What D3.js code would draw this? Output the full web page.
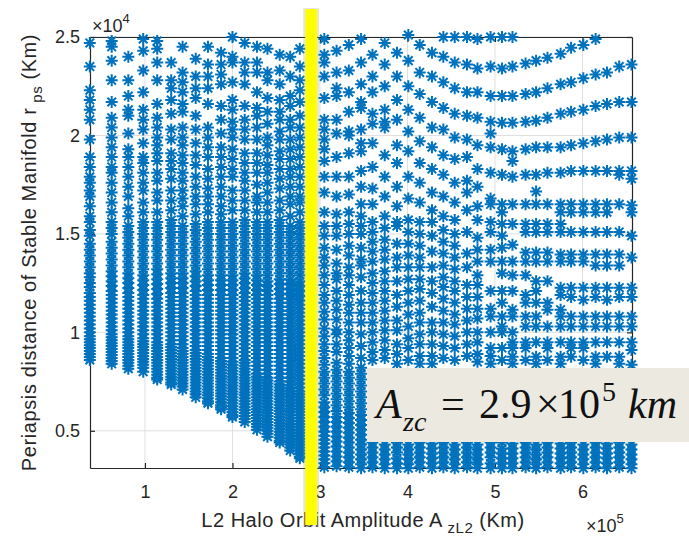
<!DOCTYPE html>
<html>
<head>
<meta charset="utf-8">
<script src="https://cdn.jsdelivr.net/npm/d3@7"></script>
<style>
  html, body { margin: 0; padding: 0; background: #fff; }
  svg { display: block; }
</style>
</head>
<body>
<svg id="chart" width="689" height="537"></svg>
<script>
// L2 halo orbit out-of-plane amplitude A_zL2, units of 1e5 km
const amplitudes = [
  0.37, 0.62, 0.81, 0.98, 1.14, 1.30, 1.43, 1.58, 1.72, 1.87, 2.00, 2.14, 2.28, 2.40, 2.54, 2.66, 2.77,
  3.05, 3.19, 3.33, 3.47, 3.60, 3.74, 3.88, 4.01, 4.14, 4.28, 4.41, 4.54, 4.68, 4.80,
  4.95, 5.08, 5.20, 5.35, 5.47, 5.60, 5.75, 5.87, 6.01, 6.15, 6.28, 6.42, 6.56
];

// Periapsis distances of the stable manifold r_ps (units of 1e4 km), one list per amplitude
const periapsis = [
  [2.47,2.35,2.23,2.18,2.13,2.08,1.98,1.89,1.84,1.79,1.76,1.72,1.69,1.64,1.59,1.56,1.52,1.49,1.45,1.42,1.39,1.36,1.33,1.30,1.28,1.25,1.23,1.20,1.18,1.16,1.14,1.12,1.10,1.08,1.06,1.04,1.02,1.00,0.98,0.965,0.95,0.935,0.92,0.905,0.89,0.875,0.86],
  [2.48,2.45,2.38,2.28,2.17,2.09,2.04,1.99,1.94,1.89,1.84,1.81,1.76,1.71,1.66,1.61,1.56,1.53,1.50,1.46,1.43,1.40,1.37,1.34,1.31,1.285,1.26,1.235,1.21,1.19,1.17,1.15,1.13,1.11,1.09,1.07,1.05,1.03,1.01,0.99,0.975,0.96,0.945,0.93,0.915,0.90,0.885,0.87,0.855,0.84],
  [2.40,2.28,2.20,2.13,2.10,2.01,1.93,1.89,1.84,1.79,1.74,1.69,1.63,1.59,1.54,1.51,1.48,1.45,1.42,1.39,1.36,1.33,1.30,1.275,1.25,1.225,1.20,1.18,1.16,1.14,1.12,1.10,1.08,1.06,1.04,1.02,1.00,0.98,0.965,0.95,0.935,0.92,0.905,0.89,0.875,0.86,0.845,0.83,0.815],
  [2.49,2.43,2.33,2.22,2.13,2.08,2.03,1.96,1.89,1.86,1.81,1.76,1.72,1.66,1.61,1.56,1.53,1.50,1.47,1.44,1.41,1.38,1.35,1.32,1.29,1.265,1.24,1.215,1.19,1.17,1.15,1.13,1.11,1.09,1.07,1.05,1.03,1.01,0.99,0.97,0.955,0.94,0.925,0.91,0.895,0.88,0.865,0.85,0.835,0.82,0.80],
  [2.48,2.44,2.37,2.28,2.16,2.09,2.04,1.99,1.95,1.91,1.87,1.81,1.77,1.71,1.67,1.61,1.56,1.53,1.50,1.47,1.44,1.41,1.38,1.35,1.32,1.295,1.27,1.245,1.22,1.195,1.17,1.15,1.13,1.11,1.09,1.07,1.05,1.03,1.01,0.99,0.97,0.95,0.935,0.92,0.905,0.89,0.875,0.86,0.845,0.83,0.815,0.80,0.785,0.77,0.76],
  [2.37,2.28,2.24,2.18,2.11,2.03,1.98,1.91,1.87,1.83,1.78,1.72,1.67,1.62,1.57,1.54,1.51,1.48,1.45,1.42,1.39,1.36,1.33,1.30,1.275,1.25,1.225,1.20,1.18,1.16,1.14,1.12,1.10,1.08,1.06,1.04,1.02,1.00,0.98,0.96,0.94,0.925,0.91,0.895,0.88,0.865,0.85,0.835,0.82,0.805,0.79,0.775,0.76,0.745,0.735],
  [2.45,2.32,2.27,2.22,2.16,2.12,2.04,1.99,1.95,1.90,1.86,1.81,1.77,1.72,1.68,1.64,1.59,1.54,1.51,1.48,1.45,1.42,1.39,1.36,1.33,1.30,1.275,1.25,1.225,1.20,1.18,1.16,1.14,1.12,1.10,1.08,1.06,1.04,1.02,1.00,0.98,0.96,0.94,0.92,0.905,0.89,0.875,0.86,0.845,0.83,0.815,0.80,0.785,0.77,0.755,0.74,0.725,0.71],
  [2.39,2.30,2.24,2.19,2.10,2.03,1.96,1.90,1.85,1.79,1.74,1.69,1.65,1.60,1.55,1.52,1.49,1.46,1.43,1.40,1.37,1.34,1.31,1.285,1.26,1.235,1.21,1.19,1.17,1.15,1.13,1.11,1.09,1.07,1.05,1.03,1.01,0.99,0.97,0.95,0.93,0.91,0.895,0.88,0.865,0.85,0.835,0.82,0.805,0.79,0.775,0.76,0.745,0.73,0.715,0.70,0.685,0.67],
  [2.45,2.36,2.30,2.24,2.16,2.04,1.99,1.94,1.89,1.83,1.78,1.73,1.69,1.65,1.61,1.56,1.53,1.50,1.47,1.44,1.41,1.38,1.35,1.32,1.29,1.265,1.24,1.215,1.19,1.17,1.15,1.13,1.11,1.09,1.07,1.05,1.03,1.01,0.99,0.97,0.95,0.93,0.91,0.89,0.875,0.86,0.845,0.83,0.815,0.80,0.785,0.77,0.755,0.74,0.725,0.71,0.695,0.68,0.665,0.65,0.64],
  [2.42,2.36,2.31,2.26,2.15,2.08,2.01,1.94,1.89,1.84,1.79,1.74,1.69,1.64,1.60,1.56,1.53,1.50,1.47,1.44,1.41,1.38,1.35,1.32,1.29,1.265,1.24,1.215,1.19,1.17,1.15,1.13,1.11,1.09,1.07,1.05,1.03,1.01,0.99,0.97,0.95,0.93,0.91,0.89,0.87,0.855,0.84,0.825,0.81,0.795,0.78,0.765,0.75,0.735,0.72,0.705,0.69,0.675,0.66,0.645,0.63,0.62,0.61],
  [2.50,2.40,2.37,2.27,2.18,2.13,2.07,2.03,1.99,1.93,1.88,1.83,1.79,1.72,1.67,1.62,1.56,1.53,1.50,1.47,1.44,1.41,1.38,1.35,1.32,1.29,1.265,1.24,1.215,1.19,1.17,1.15,1.13,1.11,1.09,1.07,1.05,1.03,1.01,0.99,0.97,0.95,0.93,0.91,0.89,0.87,0.85,0.835,0.82,0.805,0.79,0.775,0.76,0.745,0.73,0.715,0.70,0.685,0.67,0.655,0.64,0.625,0.61,0.595,0.58,0.57],
  [2.47,2.37,2.32,2.26,2.15,2.08,2.03,1.98,1.91,1.86,1.81,1.77,1.72,1.67,1.62,1.57,1.54,1.51,1.48,1.45,1.42,1.39,1.36,1.33,1.30,1.275,1.25,1.225,1.20,1.18,1.16,1.14,1.12,1.10,1.08,1.06,1.04,1.02,1.00,0.98,0.96,0.94,0.92,0.90,0.88,0.86,0.845,0.83,0.815,0.80,0.785,0.77,0.755,0.74,0.725,0.71,0.695,0.68,0.665,0.65,0.635,0.62,0.605,0.59,0.575,0.56,0.545],
  [2.45,2.37,2.32,2.22,2.14,2.10,2.04,1.98,1.91,1.86,1.81,1.75,1.69,1.66,1.61,1.56,1.53,1.50,1.47,1.44,1.41,1.38,1.35,1.32,1.29,1.265,1.24,1.215,1.19,1.17,1.15,1.13,1.11,1.09,1.07,1.05,1.03,1.01,0.99,0.97,0.95,0.93,0.91,0.89,0.87,0.85,0.83,0.81,0.79,0.775,0.76,0.745,0.73,0.715,0.70,0.685,0.67,0.655,0.64,0.625,0.61,0.595,0.58,0.565,0.55,0.535,0.52,0.505],
  [2.44,2.32,2.28,2.19,2.12,2.06,1.99,1.95,1.90,1.85,1.81,1.76,1.71,1.66,1.61,1.56,1.53,1.50,1.47,1.44,1.41,1.38,1.35,1.32,1.29,1.26,1.235,1.21,1.19,1.17,1.15,1.13,1.11,1.09,1.07,1.05,1.03,1.01,0.99,0.97,0.95,0.93,0.91,0.89,0.87,0.85,0.83,0.81,0.79,0.77,0.755,0.74,0.725,0.71,0.695,0.68,0.665,0.65,0.635,0.62,0.605,0.59,0.575,0.56,0.545,0.53,0.515,0.50,0.485,0.47],
  [2.41,2.33,2.26,2.18,2.12,2.08,2.02,1.98,1.92,1.88,1.83,1.78,1.73,1.67,1.62,1.57,1.54,1.51,1.48,1.45,1.42,1.39,1.36,1.33,1.30,1.27,1.245,1.22,1.195,1.17,1.15,1.13,1.11,1.09,1.07,1.05,1.03,1.01,0.99,0.97,0.95,0.93,0.91,0.89,0.87,0.85,0.83,0.81,0.79,0.77,0.75,0.735,0.72,0.705,0.69,0.675,0.66,0.645,0.63,0.615,0.60,0.585,0.57,0.555,0.54,0.525,0.51,0.495,0.48,0.465,0.45,0.44],
  [2.40,2.30,2.20,2.15,2.08,2.04,1.98,1.93,1.88,1.83,1.79,1.74,1.69,1.65,1.59,1.54,1.51,1.48,1.45,1.42,1.39,1.36,1.33,1.30,1.27,1.245,1.22,1.195,1.17,1.15,1.13,1.11,1.09,1.07,1.05,1.03,1.01,0.99,0.97,0.95,0.93,0.91,0.89,0.87,0.85,0.83,0.81,0.79,0.77,0.75,0.73,0.715,0.70,0.685,0.67,0.655,0.64,0.625,0.61,0.595,0.58,0.565,0.55,0.535,0.52,0.505,0.49,0.475,0.46,0.445,0.43,0.415,0.40],
  [2.44,2.35,2.28,2.23,2.17,2.10,2.04,1.99,1.94,1.89,1.84,1.79,1.74,1.69,1.66,1.61,1.56,1.53,1.50,1.47,1.44,1.41,1.38,1.35,1.32,1.29,1.26,1.235,1.21,1.185,1.16,1.14,1.12,1.10,1.08,1.06,1.04,1.02,1.00,0.98,0.96,0.94,0.92,0.90,0.88,0.86,0.84,0.82,0.80,0.78,0.76,0.74,0.72,0.70,0.685,0.67,0.655,0.64,0.625,0.61,0.595,0.58,0.565,0.55,0.535,0.52,0.505,0.49,0.475,0.46,0.445,0.43,0.415,0.40,0.385,0.37,0.36],
  [2.49,2.41,2.37,2.30,2.19,2.08,2.03,1.98,1.93,1.87,1.79,1.71,1.61,1.54,1.49,1.43,1.38,1.34,1.29,1.24,1.19,1.15,1.105,1.065,1.02,0.98,0.94,0.905,0.87,0.835,0.80,0.77,0.74,0.71,0.68,0.645,0.62,0.595,0.57,0.545,0.52,0.495,0.475,0.455,0.435,0.415,0.395,0.375,0.355,0.335,0.315],
  [2.43,2.32,2.24,2.20,2.08,2.01,1.89,1.79,1.69,1.60,1.54,1.49,1.42,1.35,1.30,1.27,1.21,1.16,1.115,1.065,1.015,0.99,0.94,0.90,0.845,0.81,0.78,0.75,0.72,0.69,0.66,0.63,0.60,0.57,0.545,0.52,0.495,0.47,0.445,0.42,0.395,0.37,0.345,0.32],
  [2.46,2.33,2.22,2.12,2.02,2.00,1.91,1.79,1.70,1.61,1.55,1.50,1.44,1.39,1.33,1.29,1.24,1.19,1.14,1.10,1.05,1.00,0.96,0.92,0.88,0.84,0.80,0.77,0.74,0.71,0.68,0.65,0.62,0.59,0.565,0.54,0.515,0.49,0.465,0.44,0.415,0.39,0.365,0.34,0.315],
  [2.49,2.37,2.26,2.17,2.14,2.03,1.96,1.92,1.82,1.74,1.65,1.59,1.54,1.50,1.43,1.37,1.34,1.28,1.21,1.15,1.10,1.05,0.99,0.93,0.87,0.82,0.79,0.76,0.73,0.70,0.67,0.64,0.61,0.58,0.555,0.53,0.505,0.48,0.455,0.43,0.405,0.38,0.355,0.33,0.31],
  [2.41,2.30,2.22,2.11,2.06,1.96,1.84,1.73,1.65,1.56,1.51,1.46,1.41,1.36,1.30,1.25,1.20,1.15,1.10,1.05,1.00,0.95,0.90,0.86,0.44,0.415,0.39,0.365,0.34,0.315],
  [2.47,2.36,2.25,2.13,2.07,2.04,1.90,1.79,1.69,1.59,1.53,1.47,1.42,1.37,1.31,1.26,1.21,1.16,1.11,1.06,1.01,0.96,0.91,0.87,0.43,0.405,0.38,0.355,0.33,0.31],
  [2.42,2.30,2.18,2.08,1.95,1.86,1.74,1.64,1.56,1.54,1.45,1.38,1.33,1.26,1.19,1.13,1.06,1.01,0.94,0.89,0.84,0.44,0.415,0.39,0.36,0.335,0.31],
  [2.51,2.38,2.25,2.13,2.02,1.92,1.79,1.68,1.57,1.51,1.45,1.39,1.33,1.27,1.21,1.15,1.09,1.03,0.97,0.92,0.86,0.43,0.405,0.38,0.355,0.33,0.31],
  [2.46,2.32,2.21,2.09,1.97,1.86,1.76,1.66,1.56,1.50,1.44,1.38,1.33,1.27,1.22,1.16,1.10,1.05,0.99,0.94,0.88,0.84,0.44,0.415,0.39,0.365,0.34,0.315],
  [2.42,2.30,2.17,2.04,1.94,1.83,1.71,1.62,1.56,1.49,1.41,1.33,1.26,1.20,1.13,1.05,1.00,0.94,0.88,0.84,0.435,0.41,0.385,0.36,0.335,0.31],
  [2.50,2.40,2.27,2.14,2.03,1.90,1.80,1.69,1.59,1.52,1.46,1.40,1.34,1.28,1.23,1.17,1.11,1.05,0.99,0.93,0.87,0.44,0.415,0.39,0.365,0.34,0.315],
  [2.50,2.37,2.24,2.11,1.99,1.88,1.76,1.66,1.57,1.50,1.44,1.38,1.32,1.26,1.21,1.15,1.09,1.04,0.98,0.92,0.86,0.43,0.405,0.38,0.355,0.33,0.31],
  [2.50,2.36,2.22,2.10,1.98,1.89,1.77,1.71,1.62,1.51,1.40,1.33,1.24,1.18,1.12,1.06,1.00,0.94,0.88,0.44,0.415,0.39,0.365,0.34,0.315],
  [2.49,2.34,2.22,2.09,1.95,1.83,1.74,1.64,1.57,1.48,1.42,1.36,1.29,1.24,1.18,1.12,1.07,1.00,0.95,0.89,0.85,0.43,0.405,0.38,0.355,0.33,0.31],
  [2.50,2.35,2.20,2.07,2.01,1.94,1.81,1.68,1.65,1.56,1.51,1.42,1.36,1.21,1.12,1.08,1.00,0.92,0.88,0.84,0.44,0.415,0.39,0.365,0.335,0.31],
  [2.50,2.34,2.20,2.065,1.93,1.80,1.65,1.61,1.55,1.49,1.43,1.36,1.30,1.21,1.15,1.08,1.03,1.00,0.92,0.86,0.44,0.41,0.385,0.36,0.335,0.31],
  [2.50,2.35,2.20,2.065,1.92,1.87,1.79,1.65,1.55,1.445,1.36,1.29,1.21,1.115,1.08,1.00,0.95,0.92,0.876,0.84,0.435,0.41,0.385,0.36,0.335,0.31],
  [2.365,2.21,2.07,1.93,1.80,1.65,1.55,1.51,1.405,1.36,1.29,1.19,1.15,1.08,1.03,0.95,0.92,0.86,0.44,0.415,0.39,0.365,0.34,0.315],
  [2.38,2.22,2.075,1.94,1.80,1.715,1.65,1.55,1.51,1.405,1.36,1.26,1.21,1.15,1.08,1.03,0.95,0.876,0.84,0.43,0.405,0.38,0.355,0.33,0.31],
  [2.395,2.24,2.09,1.94,1.81,1.65,1.55,1.51,1.405,1.36,1.26,1.15,1.115,1.03,0.95,0.92,0.86,0.44,0.415,0.39,0.365,0.34,0.315],
  [2.415,2.26,2.11,1.94,1.81,1.65,1.61,1.55,1.51,1.395,1.36,1.227,1.19,1.115,1.08,1.03,0.95,0.876,0.84,0.435,0.41,0.385,0.36,0.335,0.31],
  [2.445,2.27,2.12,1.95,1.82,1.65,1.61,1.51,1.395,1.36,1.227,1.18,1.08,1.03,0.95,0.92,0.876,0.44,0.415,0.39,0.365,0.34,0.315],
  [2.46,2.29,2.13,1.96,1.82,1.65,1.61,1.51,1.395,1.36,1.227,1.166,1.08,1.03,0.95,0.92,0.86,0.43,0.405,0.38,0.355,0.33,0.31],
  [2.49,2.31,2.15,1.97,1.82,1.65,1.61,1.51,1.395,1.34,1.227,1.18,1.08,1.03,0.95,0.876,0.84,0.44,0.415,0.39,0.365,0.34,0.315],
  [2.32,2.16,1.98,1.82,1.65,1.61,1.51,1.395,1.34,1.227,1.166,1.08,1.03,0.95,0.876,0.435,0.41,0.385,0.36,0.335,0.31],
  [2.35,2.17,1.99,1.82,1.80,1.65,1.51,1.395,1.34,1.227,1.18,1.08,1.03,0.95,0.876,0.84,0.44,0.415,0.39,0.365,0.34,0.315],
  [2.36,2.17,1.99,1.82,1.78,1.645,1.61,1.49,1.38,1.227,1.18,1.08,1.03,0.95,0.91,0.835,0.43,0.405,0.38,0.355,0.33,0.31]
];

const xTicks = [1, 2, 3, 4, 5, 6];
const yTicks = [0.5, 1, 1.5, 2, 2.5];
const xDomain = [0.372, 6.566];
const yDomain = [0.311, 2.5];
const criticalAmplitude = 2.9;   // A_zc, units of 1e5 km

const svg = d3.select("#chart");
const W = 689, H = 537;
const plot = { left: 90, right: 632, top: 37, bottom: 468 };
const axisColor = "#262626";
const markerColor = "#0072BD";
const sans = "'Liberation Sans', Arial, Helvetica, sans-serif";
const serif = "'Liberation Serif', 'Times New Roman', serif";

svg.append("rect").attr("width", W).attr("height", H).attr("fill", "#fff");

const x = d3.scaleLinear().domain(xDomain).range([plot.left, plot.right]);
const y = d3.scaleLinear().domain(yDomain).range([plot.bottom, plot.top]);

// grid
const grid = svg.append("g").attr("stroke", "#dfdfdf").attr("stroke-width", 1);
grid.selectAll("line.gx").data(xTicks).join("line")
  .attr("x1", d => x(d)).attr("x2", d => x(d))
  .attr("y1", plot.top).attr("y2", plot.bottom);
grid.selectAll("line.gy").data(yTicks).join("line")
  .attr("x1", plot.left).attr("x2", plot.right)
  .attr("y1", d => y(d)).attr("y2", d => y(d));

// axes (ticks pointing inward, box all around)
function styleAxis(g) {
  g.select(".domain").attr("stroke", axisColor).attr("stroke-width", 1.2);
  g.selectAll(".tick line").attr("stroke", axisColor).attr("stroke-width", 1.2);
  g.selectAll(".tick text").attr("fill", axisColor);
  g.attr("font-family", sans).attr("font-size", 18);
}
svg.append("g").attr("transform", `translate(0,${plot.bottom})`)
  .call(d3.axisBottom(x).tickValues(xTicks).tickFormat(d3.format("d"))
    .tickSizeInner(-5).tickSizeOuter(0).tickPadding(17))
  .call(styleAxis);
svg.append("g").attr("transform", `translate(0,${plot.top})`)
  .call(d3.axisTop(x).tickValues(xTicks).tickFormat("")
    .tickSizeInner(-5).tickSizeOuter(0))
  .call(styleAxis);
svg.append("g").attr("transform", `translate(${plot.left},0)`)
  .call(d3.axisLeft(y).tickValues(yTicks).tickFormat(d => d3.format("")(d))
    .tickSizeInner(-5).tickSizeOuter(0).tickPadding(10))
  .call(styleAxis);
svg.append("g").attr("transform", `translate(${plot.right},0)`)
  .call(d3.axisRight(y).tickValues(yTicks).tickFormat("")
    .tickSizeInner(-5).tickSizeOuter(0))
  .call(styleAxis);

// asterisk markers
const points = amplitudes.flatMap((a, i) => periapsis[i].map(r => ({ a, r })));
const star = "M-6,0H6M0,-6V6M-4.3,-4.3L4.3,4.3M-4.3,4.3L4.3,-4.3";
svg.append("g")
  .attr("fill", "none").attr("stroke", markerColor).attr("stroke-width", 2)
  .selectAll("path").data(points).join("path")
  .attr("d", star)
  .attr("transform", d => `translate(${x(d.a)},${y(d.r)})`);

// exponent labels
const expTop = svg.append("text").attr("x", 92).attr("y", 32)
  .attr("font-family", sans).attr("font-size", 18).attr("fill", axisColor);
expTop.append("tspan").text("\u00d710");
expTop.append("tspan").attr("font-size", 13).attr("dy", -9).text("4");

const expBottom = svg.append("text").attr("x", 586).attr("y", 532)
  .attr("font-family", sans).attr("font-size", 18).attr("fill", axisColor);
expBottom.append("tspan").text("\u00d710");
expBottom.append("tspan").attr("font-size", 13).attr("dy", -9).text("5");

// axis titles
const xTitle = svg.append("text")
  .attr("x", (plot.left + plot.right) / 2 + 2).attr("y", 527)
  .attr("text-anchor", "middle").attr("letter-spacing", 0.5)
  .attr("font-family", sans).attr("font-size", 20).attr("fill", axisColor);
xTitle.append("tspan").text("L2 Halo Orbit Amplitude A");
xTitle.append("tspan").attr("font-size", 15).attr("dy", 6).text("\u00a0zL2");
xTitle.append("tspan").attr("dy", -6).text(" (Km)");

const yTitle = svg.append("text")
  .attr("transform", `translate(36,${(plot.top + plot.bottom) / 2}) rotate(-90)`)
  .attr("text-anchor", "middle").attr("letter-spacing", 0.6)
  .attr("font-family", sans).attr("font-size", 20).attr("fill", axisColor);
yTitle.append("tspan").text("Periapsis distance of Stable Manifold r");
yTitle.append("tspan").attr("font-size", 15).attr("dy", 6).text("\u00a0ps");
yTitle.append("tspan").attr("dy", -6).text(" (Km)");

// critical amplitude marker bar
const barX = x(criticalAmplitude);
svg.append("rect").attr("x", barX - 8).attr("y", 8).attr("width", 16).attr("height", 519)
  .attr("fill", "#9a9a9a").attr("opacity", 0.25);
svg.append("rect").attr("x", barX - 6).attr("y", 9).attr("width", 12).attr("height", 516)
  .attr("fill", "#ffff00");

// annotation box
svg.append("rect").attr("x", 367).attr("y", 368).attr("width", 330).attr("height", 74)
  .attr("fill", "#ECE9E0");
const note = svg.append("text").attr("y", 418)
  .attr("font-family", serif).attr("font-size", 42).attr("fill", "#111");
note.append("tspan").attr("x", 376).attr("font-style", "italic").text("A");
note.append("tspan").attr("x", 403).attr("dy", 13).attr("font-size", 28).attr("font-style", "italic").text("zc");
note.append("tspan").attr("x", 441).attr("dy", -13).text("=");
note.append("tspan").attr("x", 479).text(d3.format(".1f")(criticalAmplitude));
note.append("tspan").attr("x", 536).text("\u00d7");
note.append("tspan").attr("x", 558).text("10");
note.append("tspan").attr("x", 602).attr("dy", -17).attr("font-size", 28).text("5");
note.append("tspan").attr("x", 628).attr("dy", 17).attr("font-style", "italic").text("km");
</script>
</body>
</html>
